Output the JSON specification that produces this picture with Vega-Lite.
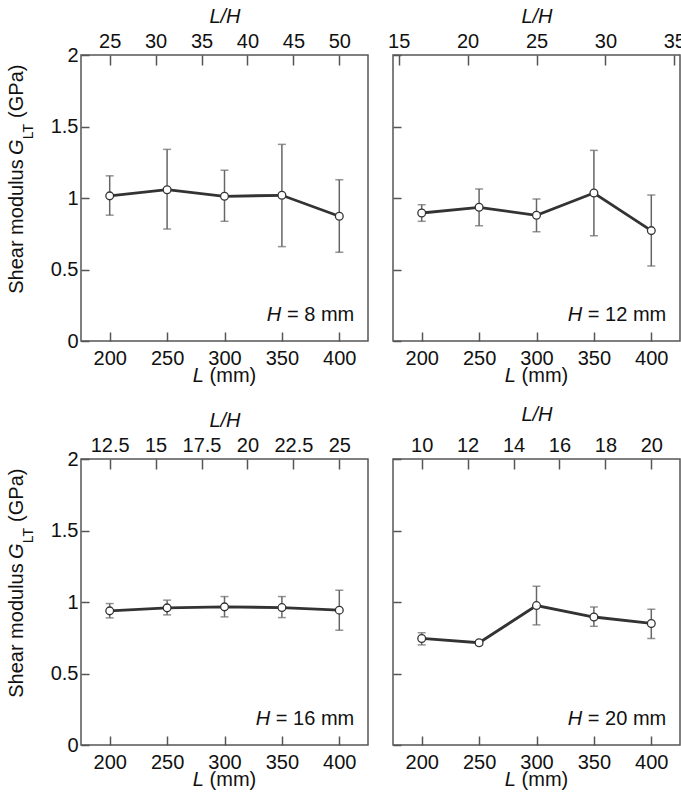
{
  "$schema": "https://vega.github.io/schema/vega-lite/v6.json",
  "padding": {"left": 6, "top": 5, "right": 0, "bottom": 0},
  "datasets": {
    "g": [
      {"H": 8, "L": 200, "G": 1.015, "lo": 0.88, "hi": 1.155},
      {"H": 8, "L": 250, "G": 1.058, "lo": 0.783, "hi": 1.34},
      {"H": 8, "L": 300, "G": 1.012, "lo": 0.837, "hi": 1.194},
      {"H": 8, "L": 350, "G": 1.019, "lo": 0.66, "hi": 1.375},
      {"H": 8, "L": 400, "G": 0.872, "lo": 0.62, "hi": 1.128},
      {"H": 12, "L": 200, "G": 0.895, "lo": 0.837, "hi": 0.953},
      {"H": 12, "L": 250, "G": 0.935, "lo": 0.806, "hi": 1.063},
      {"H": 12, "L": 300, "G": 0.879, "lo": 0.764, "hi": 0.993},
      {"H": 12, "L": 350, "G": 1.035, "lo": 0.736, "hi": 1.333},
      {"H": 12, "L": 400, "G": 0.772, "lo": 0.524, "hi": 1.021},
      {"H": 16, "L": 200, "G": 0.938, "lo": 0.889, "hi": 0.989},
      {"H": 16, "L": 250, "G": 0.959, "lo": 0.91, "hi": 1.013},
      {"H": 16, "L": 300, "G": 0.966, "lo": 0.896, "hi": 1.038},
      {"H": 16, "L": 350, "G": 0.961, "lo": 0.891, "hi": 1.038},
      {"H": 16, "L": 400, "G": 0.943, "lo": 0.803, "hi": 1.083},
      {"H": 20, "L": 200, "G": 0.745, "lo": 0.70, "hi": 0.785},
      {"H": 20, "L": 250, "G": 0.715, "lo": 0.70, "hi": 0.728},
      {"H": 20, "L": 300, "G": 0.975, "lo": 0.84, "hi": 1.11},
      {"H": 20, "L": 350, "G": 0.895, "lo": 0.83, "hi": 0.965},
      {"H": 20, "L": 400, "G": 0.85, "lo": 0.745, "hi": 0.95}
    ]
  },
  "columns": 2,
  "bounds": "flush",
  "spacing": {"row": 118, "column": 25},
  "concat": [
    {
      "width": 287, "height": 286,
      "layer": [
        {
          "layer": [
            {"data": {"name": "g"}, "transform": [{"filter": "datum.H == 8"}],
             "mark": {"type": "errorbar", "color": "#666", "thickness": 1.5, "ticks": {"size": 8, "thickness": 1.5, "color": "#666"}},
             "encoding": {"x": {"field": "L", "type": "quantitative", "scale": {"domain": [175, 425], "nice": false, "padding": 0}},
                          "y": {"field": "lo", "type": "quantitative", "scale": {"domain": [0, 2], "nice": false, "padding": 0}},
                          "y2": {"field": "hi"}}},
            {"data": {"name": "g"}, "transform": [{"filter": "datum.H == 8"}],
             "mark": {"type": "line", "color": "#333", "strokeWidth": 2.8},
             "encoding": {"x": {"field": "L", "type": "quantitative", "axis": {"orient": "bottom", "values": [200, 250, 300, 350, 400], "tickSize": -9, "labelPadding": 16, "title": null, "format": "d", "labelFlush": false, "labelOverlap": false}},
                          "y": {"field": "G", "type": "quantitative", "axis": {"orient": "left", "values": [0, 0.5, 1, 1.5, 2], "tickSize": -8, "labelPadding": 11, "title": null, "format": "~g", "labelFlush": false, "labelOverlap": false}}}},
            {"data": {"name": "g"}, "transform": [{"filter": "datum.H == 8"}],
             "mark": {"type": "circle", "fill": "white", "stroke": "#333", "strokeWidth": 1.3, "size": 60, "opacity": 1},
             "encoding": {"x": {"field": "L", "type": "quantitative"}, "y": {"field": "G", "type": "quantitative"}}},
            {"data": {"values": [{}]}, "mark": {"type": "text", "angle": 270, "align": "left", "baseline": "alphabetic", "fontSize": 20},
             "encoding": {"x": {"datum": 124.7, "type": "quantitative"}, "y": {"datum": 0.33, "type": "quantitative"}, "text": {"value": "Shear modulus"}}},
            {"data": {"values": [{}]}, "mark": {"type": "text", "angle": 270, "align": "left", "baseline": "alphabetic", "fontSize": 20, "fontStyle": "italic"},
             "encoding": {"x": {"datum": 124.7, "type": "quantitative"}, "y": {"datum": 1.3, "type": "quantitative"}, "text": {"value": "G"}}},
            {"data": {"values": [{}]}, "mark": {"type": "text", "angle": 270, "align": "left", "baseline": "alphabetic", "fontSize": 14},
             "encoding": {"x": {"datum": 133.5, "type": "quantitative"}, "y": {"datum": 1.41, "type": "quantitative"}, "text": {"value": "LT"}}},
            {"data": {"values": [{}]}, "mark": {"type": "text", "angle": 270, "align": "left", "baseline": "alphabetic", "fontSize": 20},
             "encoding": {"x": {"datum": 124.7, "type": "quantitative"}, "y": {"datum": 1.56, "type": "quantitative"}, "text": {"value": "(GPa)"}}},
            {"data": {"values": [{}]}, "mark": {"type": "text", "align": "left", "baseline": "alphabetic", "fontSize": 20, "fontStyle": "italic", "dx": -31.7},
             "encoding": {"x": {"datum": 300, "type": "quantitative"}, "y": {"datum": -0.285, "type": "quantitative"}, "text": {"value": "L"}}},
            {"data": {"values": [{}]}, "mark": {"type": "text", "align": "left", "baseline": "alphabetic", "fontSize": 20, "dx": -14.9},
             "encoding": {"x": {"datum": 300, "type": "quantitative"}, "y": {"datum": -0.285, "type": "quantitative"}, "text": {"value": "(mm)"}}},
            {"data": {"values": [{}]}, "mark": {"type": "text", "align": "right", "baseline": "alphabetic", "fontSize": 20, "fontStyle": "italic", "dx": -73},
             "encoding": {"x": {"datum": 413, "type": "quantitative"}, "y": {"datum": 0.14, "type": "quantitative"}, "text": {"value": "H"}}},
            {"data": {"values": [{}]}, "mark": {"type": "text", "align": "right", "baseline": "alphabetic", "fontSize": 20},
             "encoding": {"x": {"datum": 413, "type": "quantitative"}, "y": {"datum": 0.14, "type": "quantitative"}, "text": {"value": "= 8 mm"}}}
          ]
        },
        {"data": {"values": [{}]}, "mark": {"type": "point", "opacity": 0},
         "encoding": {"x": {"datum": 30, "type": "quantitative", "scale": {"domain": [21.875, 53.125], "nice": false, "padding": 0},
                            "axis": {"orient": "top", "values": [25, 30, 35, 40, 45, 50], "tickSize": -10, "labelPadding": 14, "title": "L/H", "titleFontStyle": "italic", "titlePadding": 5, "format": "~g", "labelFlush": false, "labelOverlap": false}}}}
      ],
      "resolve": {"scale": {"x": "independent"}, "axis": {"x": "independent"}}
    },
    {
      "width": 287, "height": 286,
      "layer": [
        {
          "layer": [
            {"data": {"name": "g"}, "transform": [{"filter": "datum.H == 12"}],
             "mark": {"type": "errorbar", "color": "#666", "thickness": 1.5, "ticks": {"size": 8, "thickness": 1.5, "color": "#666"}},
             "encoding": {"x": {"field": "L", "type": "quantitative", "scale": {"domain": [175, 425], "nice": false, "padding": 0}},
                          "y": {"field": "lo", "type": "quantitative", "scale": {"domain": [0, 2], "nice": false, "padding": 0}},
                          "y2": {"field": "hi"}}},
            {"data": {"name": "g"}, "transform": [{"filter": "datum.H == 12"}],
             "mark": {"type": "line", "color": "#333", "strokeWidth": 2.8},
             "encoding": {"x": {"field": "L", "type": "quantitative", "axis": {"orient": "bottom", "values": [200, 250, 300, 350, 400], "tickSize": -9, "labelPadding": 16, "title": null, "format": "d", "labelFlush": false, "labelOverlap": false}},
                          "y": {"field": "G", "type": "quantitative", "axis": {"orient": "left", "values": [0, 0.5, 1, 1.5, 2], "tickSize": -8, "labels": false, "title": null, "labelFlush": false}}}},
            {"data": {"name": "g"}, "transform": [{"filter": "datum.H == 12"}],
             "mark": {"type": "circle", "fill": "white", "stroke": "#333", "strokeWidth": 1.3, "size": 60, "opacity": 1},
             "encoding": {"x": {"field": "L", "type": "quantitative"}, "y": {"field": "G", "type": "quantitative"}}},
            {"data": {"values": [{}]}, "mark": {"type": "text", "align": "left", "baseline": "alphabetic", "fontSize": 20, "fontStyle": "italic", "dx": -31.7},
             "encoding": {"x": {"datum": 300, "type": "quantitative"}, "y": {"datum": -0.285, "type": "quantitative"}, "text": {"value": "L"}}},
            {"data": {"values": [{}]}, "mark": {"type": "text", "align": "left", "baseline": "alphabetic", "fontSize": 20, "dx": -14.9},
             "encoding": {"x": {"datum": 300, "type": "quantitative"}, "y": {"datum": -0.285, "type": "quantitative"}, "text": {"value": "(mm)"}}},
            {"data": {"values": [{}]}, "mark": {"type": "text", "align": "right", "baseline": "alphabetic", "fontSize": 20, "fontStyle": "italic", "dx": -84},
             "encoding": {"x": {"datum": 413, "type": "quantitative"}, "y": {"datum": 0.14, "type": "quantitative"}, "text": {"value": "H"}}},
            {"data": {"values": [{}]}, "mark": {"type": "text", "align": "right", "baseline": "alphabetic", "fontSize": 20},
             "encoding": {"x": {"datum": 413, "type": "quantitative"}, "y": {"datum": 0.14, "type": "quantitative"}, "text": {"value": "= 12 mm"}}}
          ]
        },
        {"data": {"values": [{}]}, "mark": {"type": "point", "opacity": 0},
         "encoding": {"x": {"datum": 20, "type": "quantitative", "scale": {"domain": [14.5833, 35.4167], "nice": false, "padding": 0},
                            "axis": {"orient": "top", "values": [15, 20, 25, 30, 35], "tickSize": -10, "labelPadding": 14, "title": "L/H", "titleFontStyle": "italic", "titlePadding": 5, "format": "~g", "labelFlush": false, "labelOverlap": false}}}}
      ],
      "resolve": {"scale": {"x": "independent"}, "axis": {"x": "independent"}}
    },
    {
      "width": 287, "height": 286,
      "layer": [
        {
          "layer": [
            {"data": {"name": "g"}, "transform": [{"filter": "datum.H == 16"}],
             "mark": {"type": "errorbar", "color": "#666", "thickness": 1.5, "ticks": {"size": 8, "thickness": 1.5, "color": "#666"}},
             "encoding": {"x": {"field": "L", "type": "quantitative", "scale": {"domain": [175, 425], "nice": false, "padding": 0}},
                          "y": {"field": "lo", "type": "quantitative", "scale": {"domain": [0, 2], "nice": false, "padding": 0}},
                          "y2": {"field": "hi"}}},
            {"data": {"name": "g"}, "transform": [{"filter": "datum.H == 16"}],
             "mark": {"type": "line", "color": "#333", "strokeWidth": 2.8},
             "encoding": {"x": {"field": "L", "type": "quantitative", "axis": {"orient": "bottom", "values": [200, 250, 300, 350, 400], "tickSize": -9, "labelPadding": 16, "title": null, "format": "d", "labelFlush": false, "labelOverlap": false}},
                          "y": {"field": "G", "type": "quantitative", "axis": {"orient": "left", "values": [0, 0.5, 1, 1.5, 2], "tickSize": -8, "labelPadding": 11, "title": null, "format": "~g", "labelFlush": false, "labelOverlap": false}}}},
            {"data": {"name": "g"}, "transform": [{"filter": "datum.H == 16"}],
             "mark": {"type": "circle", "fill": "white", "stroke": "#333", "strokeWidth": 1.3, "size": 60, "opacity": 1},
             "encoding": {"x": {"field": "L", "type": "quantitative"}, "y": {"field": "G", "type": "quantitative"}}},
            {"data": {"values": [{}]}, "mark": {"type": "text", "angle": 270, "align": "left", "baseline": "alphabetic", "fontSize": 20},
             "encoding": {"x": {"datum": 124.7, "type": "quantitative"}, "y": {"datum": 0.33, "type": "quantitative"}, "text": {"value": "Shear modulus"}}},
            {"data": {"values": [{}]}, "mark": {"type": "text", "angle": 270, "align": "left", "baseline": "alphabetic", "fontSize": 20, "fontStyle": "italic"},
             "encoding": {"x": {"datum": 124.7, "type": "quantitative"}, "y": {"datum": 1.3, "type": "quantitative"}, "text": {"value": "G"}}},
            {"data": {"values": [{}]}, "mark": {"type": "text", "angle": 270, "align": "left", "baseline": "alphabetic", "fontSize": 14},
             "encoding": {"x": {"datum": 133.5, "type": "quantitative"}, "y": {"datum": 1.41, "type": "quantitative"}, "text": {"value": "LT"}}},
            {"data": {"values": [{}]}, "mark": {"type": "text", "angle": 270, "align": "left", "baseline": "alphabetic", "fontSize": 20},
             "encoding": {"x": {"datum": 124.7, "type": "quantitative"}, "y": {"datum": 1.56, "type": "quantitative"}, "text": {"value": "(GPa)"}}},
            {"data": {"values": [{}]}, "mark": {"type": "text", "align": "left", "baseline": "alphabetic", "fontSize": 20, "fontStyle": "italic", "dx": -31.7},
             "encoding": {"x": {"datum": 300, "type": "quantitative"}, "y": {"datum": -0.285, "type": "quantitative"}, "text": {"value": "L"}}},
            {"data": {"values": [{}]}, "mark": {"type": "text", "align": "left", "baseline": "alphabetic", "fontSize": 20, "dx": -14.9},
             "encoding": {"x": {"datum": 300, "type": "quantitative"}, "y": {"datum": -0.285, "type": "quantitative"}, "text": {"value": "(mm)"}}},
            {"data": {"values": [{}]}, "mark": {"type": "text", "align": "right", "baseline": "alphabetic", "fontSize": 20, "fontStyle": "italic", "dx": -84},
             "encoding": {"x": {"datum": 413, "type": "quantitative"}, "y": {"datum": 0.14, "type": "quantitative"}, "text": {"value": "H"}}},
            {"data": {"values": [{}]}, "mark": {"type": "text", "align": "right", "baseline": "alphabetic", "fontSize": 20},
             "encoding": {"x": {"datum": 413, "type": "quantitative"}, "y": {"datum": 0.14, "type": "quantitative"}, "text": {"value": "= 16 mm"}}}
          ]
        },
        {"data": {"values": [{}]}, "mark": {"type": "point", "opacity": 0},
         "encoding": {"x": {"datum": 15, "type": "quantitative", "scale": {"domain": [10.9375, 26.5625], "nice": false, "padding": 0},
                            "axis": {"orient": "top", "values": [12.5, 15, 17.5, 20, 22.5, 25], "tickSize": -10, "labelPadding": 14, "title": "L/H", "titleFontStyle": "italic", "titlePadding": 5, "format": ".1~f", "labelFlush": false, "labelOverlap": false}}}}
      ],
      "resolve": {"scale": {"x": "independent"}, "axis": {"x": "independent"}}
    },
    {
      "width": 287, "height": 286,
      "layer": [
        {
          "layer": [
            {"data": {"name": "g"}, "transform": [{"filter": "datum.H == 20"}],
             "mark": {"type": "errorbar", "color": "#666", "thickness": 1.5, "ticks": {"size": 8, "thickness": 1.5, "color": "#666"}},
             "encoding": {"x": {"field": "L", "type": "quantitative", "scale": {"domain": [175, 425], "nice": false, "padding": 0}},
                          "y": {"field": "lo", "type": "quantitative", "scale": {"domain": [0, 2], "nice": false, "padding": 0}},
                          "y2": {"field": "hi"}}},
            {"data": {"name": "g"}, "transform": [{"filter": "datum.H == 20"}],
             "mark": {"type": "line", "color": "#333", "strokeWidth": 2.8},
             "encoding": {"x": {"field": "L", "type": "quantitative", "axis": {"orient": "bottom", "values": [200, 250, 300, 350, 400], "tickSize": -9, "labelPadding": 16, "title": null, "format": "d", "labelFlush": false, "labelOverlap": false}},
                          "y": {"field": "G", "type": "quantitative", "axis": {"orient": "left", "values": [0, 0.5, 1, 1.5, 2], "tickSize": -8, "labels": false, "title": null, "labelFlush": false}}}},
            {"data": {"name": "g"}, "transform": [{"filter": "datum.H == 20"}],
             "mark": {"type": "circle", "fill": "white", "stroke": "#333", "strokeWidth": 1.3, "size": 60, "opacity": 1},
             "encoding": {"x": {"field": "L", "type": "quantitative"}, "y": {"field": "G", "type": "quantitative"}}},
            {"data": {"values": [{}]}, "mark": {"type": "text", "align": "left", "baseline": "alphabetic", "fontSize": 20, "fontStyle": "italic", "dx": -31.7},
             "encoding": {"x": {"datum": 300, "type": "quantitative"}, "y": {"datum": -0.285, "type": "quantitative"}, "text": {"value": "L"}}},
            {"data": {"values": [{}]}, "mark": {"type": "text", "align": "left", "baseline": "alphabetic", "fontSize": 20, "dx": -14.9},
             "encoding": {"x": {"datum": 300, "type": "quantitative"}, "y": {"datum": -0.285, "type": "quantitative"}, "text": {"value": "(mm)"}}},
            {"data": {"values": [{}]}, "mark": {"type": "text", "align": "right", "baseline": "alphabetic", "fontSize": 20, "fontStyle": "italic", "dx": -84},
             "encoding": {"x": {"datum": 413, "type": "quantitative"}, "y": {"datum": 0.14, "type": "quantitative"}, "text": {"value": "H"}}},
            {"data": {"values": [{}]}, "mark": {"type": "text", "align": "right", "baseline": "alphabetic", "fontSize": 20},
             "encoding": {"x": {"datum": 413, "type": "quantitative"}, "y": {"datum": 0.14, "type": "quantitative"}, "text": {"value": "= 20 mm"}}}
          ]
        },
        {"data": {"values": [{}]}, "mark": {"type": "point", "opacity": 0},
         "encoding": {"x": {"datum": 15, "type": "quantitative", "scale": {"domain": [8.75, 21.25], "nice": false, "padding": 0},
                            "axis": {"orient": "top", "values": [10, 12, 14, 16, 18, 20], "tickSize": -10, "labelPadding": 14, "title": "L/H", "titleFontStyle": "italic", "titlePadding": 11, "format": "~g", "labelFlush": false, "labelOverlap": false}}}}
      ],
      "resolve": {"scale": {"x": "independent"}, "axis": {"x": "independent"}}
    }
  ],
  "config": {
    "font": "Liberation Sans",
    "view": {"stroke": "#555", "strokeWidth": 1.5},
    "axis": {"domain": false, "grid": false, "labelFont": "Liberation Sans", "labelFontSize": 20, "labelColor": "#111", "tickColor": "#555", "tickWidth": 1.5, "titleFont": "Liberation Sans", "titleFontSize": 20, "titleColor": "#111", "titleFontWeight": "normal"},
    "text": {"font": "Liberation Sans", "fontSize": 20, "color": "#111"}
  }
}
